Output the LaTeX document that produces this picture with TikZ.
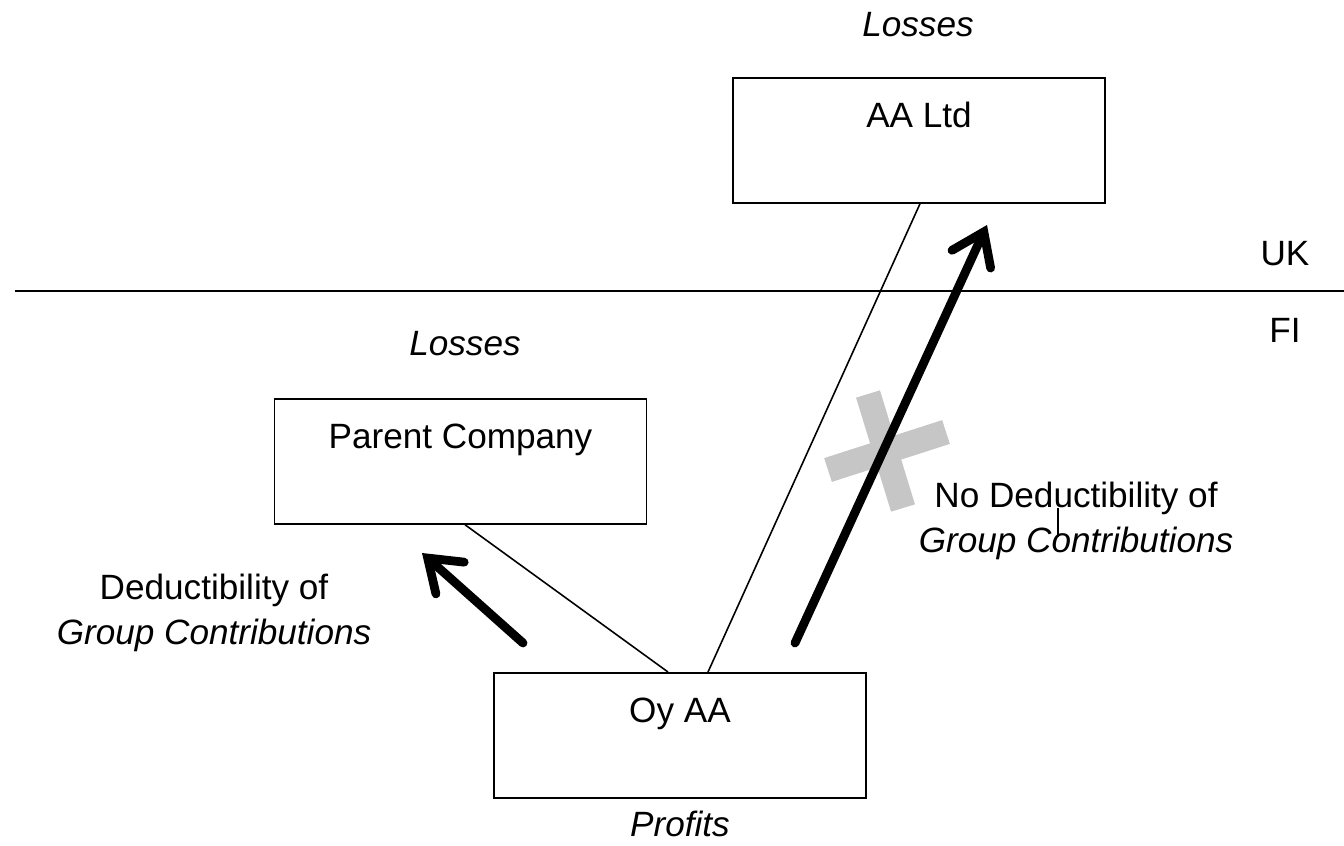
\documentclass[tikz,border=0pt]{standalone}
\usepackage{fontspec}
\setmainfont{Liberation Sans}
\usetikzlibrary{arrows.meta}

\begin{document}
\begin{tikzpicture}[x=0.02cm, y=-0.02cm,
        font=\fontsize{20pt}{26pt}\selectfont,
        company/.style={draw, line width=1pt, anchor=north, inner sep=0pt,
            minimum width=7.44cm, text height=1cm, text depth=1.5cm},
        note/.style={font=\fontsize{20pt}{26pt}\selectfont\itshape, inner sep=1pt},
        link/.style={line width=0.9pt},
        flow/.style={line width=5pt, line cap=round,
            -{Straight Barb[length=0.6cm, width=0.85cm, line cap=round]}}]
    \useasboundingbox (0,0) rectangle (1344,845);

    % border between the two countries
    \coordinate (borderW) at (15,291);
    \coordinate (borderE) at (1344,291);
    \draw[line width=1pt] (borderW) -- (borderE);
    \node (uk) at (1285,254) {UK};
    \node (fi) at (1285,330) {FI};

    % companies
    \node[company] (aa) at (919,77) {AA Ltd};
    \node[company] (parent) at (460.5,398) {Parent Company};
    \node[company] (oy) at (680,672) {Oy AA};

    \node[note] (aaLosses) at (918,25) {Losses};
    \node[note] (parentLosses) at (465,344) {Losses};
    \node[note] (oyProfits) at (680,824) {Profits};

    % ownership
    \draw[link] ([xshift=-0.24cm]oy.north) -- ([xshift=0.09cm]parent.south);
    \draw[link] ([xshift=0.56cm]oy.north) -- ([xshift=0.02cm]aa.south);

    % crossed out contribution
    \foreach \xa/\ya/\xb/\yb in {868/394/903/508, 828/470/946/432} {
        \draw[gray!45, line width=0.5cm] (\xa,\ya) -- (\xb,\yb);
    }

    % contributions
    \coordinate (toParentS) at (523,643);
    \coordinate (toParentE) at (422,553);
    \coordinate (toAAS) at (795,643);
    \coordinate (toAAE) at (987,225);
    \draw[flow] (toParentS) -- (toParentE);
    \draw[flow] (toAAS) -- (toAAE);

    \node[align=center] (yesText) at (214,613)
        {Deductibility of\\ \textit{Group Contributions}};
    \node[align=center] (noText) at (1076,521)
        {No Deductibility of\\ \textit{Group Contributions}};
    \draw[line width=0.6pt] (1058,508) -- (1058,537);
\end{tikzpicture}
\end{document}
